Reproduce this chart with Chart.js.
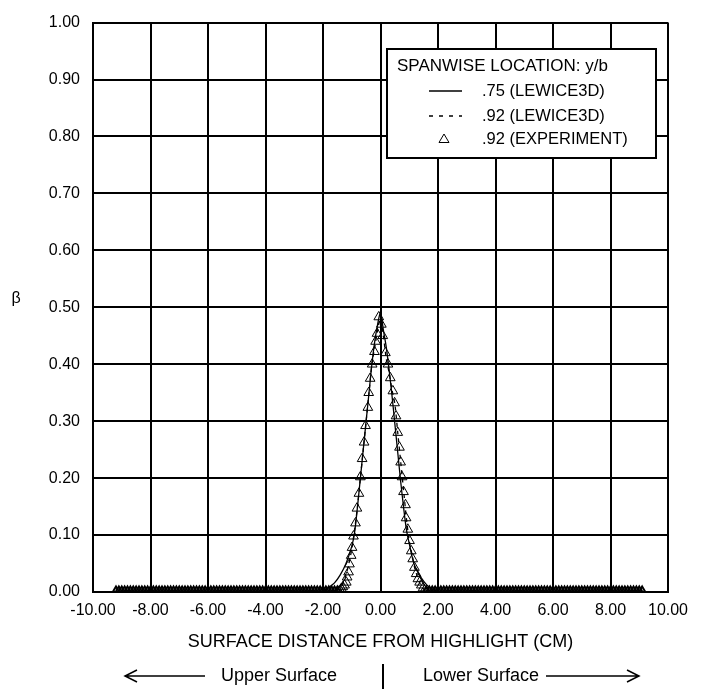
<!DOCTYPE html>
<html>
<head>
<meta charset="utf-8">
<script src="https://cdn.jsdelivr.net/npm/chart.js@4.4.1/dist/chart.umd.min.js"></script>
<style>
  html, body { margin: 0; padding: 0; background: #fff; }
</style>
</head>
<body>
<canvas id="chart" width="709" height="689"></canvas>
<script>
// axis ticks
const xTicks = [-10, -8, -6, -4, -2, 0, 2, 4, 6, 8, 10];
const yTicks = [0, 0.1, 0.2, 0.3, 0.4, 0.5, 0.6, 0.7, 0.8, 0.9, 1.0];

// .75 (LEWICE3D) - solid
const solidX = [-9.3, -2.1, -2.0, -1.8, -1.6, -1.4, -1.2, -1.0, -0.9, -0.8, -0.7, -0.6, -0.5, -0.4, -0.3, -0.2, -0.1, 0.0,
  0.1, 0.2, 0.3, 0.4, 0.5, 0.6, 0.7, 0.8, 0.9, 1.0, 1.1, 1.2, 1.4, 1.6, 1.8, 2.0, 2.1, 9.0];
const solidY = [0, 0, 0.002, 0.008, 0.016, 0.03, 0.05, 0.08, 0.105, 0.15, 0.2, 0.25, 0.3, 0.35, 0.4, 0.44, 0.47, 0.49,
  0.46, 0.43, 0.39, 0.345, 0.295, 0.245, 0.195, 0.15, 0.11, 0.085, 0.062, 0.045, 0.026, 0.013, 0.005, 0.001, 0, 0];

// .92 (LEWICE3D) - dashed
const dashX = [-9.3, -1.5, -1.4, -1.3, -1.2, -1.1, -1.0, -0.9, -0.8, -0.7, -0.6, -0.5, -0.4, -0.3, -0.2, -0.1, 0.0,
  0.1, 0.2, 0.3, 0.4, 0.5, 0.6, 0.7, 0.8, 0.9, 1.0, 1.1, 1.2, 1.3, 1.4, 1.5, 1.6, 9.0];
const dashY = [0, 0, 0.005, 0.015, 0.03, 0.05, 0.075, 0.11, 0.15, 0.2, 0.25, 0.3, 0.35, 0.4, 0.43, 0.46, 0.48,
  0.45, 0.41, 0.385, 0.355, 0.33, 0.28, 0.23, 0.18, 0.13, 0.09, 0.065, 0.04, 0.025, 0.012, 0.005, 0, 0];

// .92 (EXPERIMENT) - peak region
const expX = [-1.45, -1.40, -1.36, -1.31, -1.25, -1.19, -1.16, -1.11, -1.08, -1.02, -0.99, -0.94, -0.87, -0.82, -0.75,
  -0.70, -0.64, -0.57, -0.52, -0.44, -0.41, -0.36, -0.29, -0.21, -0.17, -0.12, -0.06,
  0.03, 0.08, 0.17, 0.26, 0.34, 0.43, 0.49, 0.54, 0.60, 0.66, 0.70, 0.75, 0.80, 0.87, 0.89, 0.95, 1.01, 1.07,
  1.12, 1.18, 1.24, 1.30, 1.36, 1.42, 1.48, 1.53];
const expY = [0.001, 0.003, 0.006, 0.009, 0.012, 0.017, 0.026, 0.035, 0.049, 0.064, 0.078, 0.098, 0.121, 0.147, 0.173,
  0.202, 0.234, 0.263, 0.292, 0.324, 0.35, 0.375, 0.40, 0.422, 0.44, 0.454, 0.483,
  0.47, 0.45, 0.42, 0.40, 0.376, 0.353, 0.332, 0.309, 0.28, 0.254, 0.228, 0.202, 0.176, 0.153, 0.13, 0.11, 0.09, 0.072,
  0.058, 0.043, 0.032, 0.023, 0.017, 0.012, 0.007, 0.003];
// experiment points sitting on zero
const expZeroX = [-9.2, -9.1, -9.0, -8.9, -8.8, -8.7, -8.6, -8.5, -8.4, -8.3, -8.2, -8.1, -8.0, -7.9, -7.8, -7.7, -7.6,
  -7.5, -7.4, -7.3, -7.2, -7.1, -7.0, -6.9, -6.8, -6.7, -6.6, -6.5, -6.4, -6.3, -6.2, -6.1, -6.0, -5.9, -5.8, -5.7,
  -5.6, -5.5, -5.4, -5.3, -5.2, -5.1, -5.0, -4.9, -4.8, -4.7, -4.6, -4.5, -4.4, -4.3, -4.2, -4.1, -4.0, -3.9, -3.8,
  -3.7, -3.6, -3.5, -3.4, -3.3, -3.2, -3.1, -3.0, -2.9, -2.8, -2.7, -2.6, -2.5, -2.4, -2.3, -2.2, -2.1, -2.0, -1.9,
  -1.8, -1.7, -1.6, -1.5,
  1.6, 1.7, 1.8, 1.9, 2.0, 2.1, 2.2, 2.3, 2.4, 2.5, 2.6, 2.7, 2.8, 2.9, 3.0, 3.1, 3.2, 3.3, 3.4, 3.5, 3.6, 3.7, 3.8,
  3.9, 4.0, 4.1, 4.2, 4.3, 4.4, 4.5, 4.6, 4.7, 4.8, 4.9, 5.0, 5.1, 5.2, 5.3, 5.4, 5.5, 5.6, 5.7, 5.8, 5.9, 6.0, 6.1,
  6.2, 6.3, 6.4, 6.5, 6.6, 6.7, 6.8, 6.9, 7.0, 7.1, 7.2, 7.3, 7.4, 7.5, 7.6, 7.7, 7.8, 7.9, 8.0, 8.1, 8.2, 8.3, 8.4,
  8.5, 8.6, 8.7, 8.8, 8.9, 9.0, 9.1];

const FONT = '"Liberation Sans", Arial, Helvetica, sans-serif';

function pts(xs, ys) {
  return xs.map((x, i) => ({ x: x, y: ys[i] }));
}

const expData = pts(expX, expY).concat(expZeroX.map(x => ({ x: x, y: 0 })));

// legend, beta label, axis title and the surface arrows
const extras = {
  id: 'extras',
  afterDraw(chart) {
    const ctx = chart.ctx;
    const area = chart.chartArea;
    const ds = chart.data.datasets;
    ctx.save();

    // legend box
    ctx.fillStyle = '#fff';
    ctx.fillRect(387, 49, 269, 109);
    ctx.strokeStyle = '#000';
    ctx.lineWidth = 2;
    ctx.strokeRect(387, 49, 269, 109);

    ctx.fillStyle = '#000';
    ctx.textBaseline = 'middle';
    ctx.textAlign = 'left';
    ctx.font = '17px ' + FONT;
    ctx.fillText('SPANWISE LOCATION: y/b', 397, 66);

    ctx.font = '16.5px ' + FONT;
    const rows = [91, 116, 139];
    ctx.lineWidth = 1.5;
    ctx.beginPath();
    ctx.moveTo(429, rows[0]); ctx.lineTo(462, rows[0]);
    ctx.stroke();
    ctx.setLineDash([4, 6]);
    ctx.beginPath();
    ctx.moveTo(429, rows[1]); ctx.lineTo(462, rows[1]);
    ctx.stroke();
    ctx.setLineDash([]);
    ctx.lineWidth = 1;
    ctx.beginPath();
    ctx.moveTo(444, rows[2] - 5);
    ctx.lineTo(449, rows[2] + 3.5);
    ctx.lineTo(439, rows[2] + 3.5);
    ctx.closePath();
    ctx.stroke();
    ds.forEach((d, i) => ctx.fillText(d.label, 482, rows[i]));

    // beta
    ctx.font = '16px ' + FONT;
    ctx.textBaseline = 'alphabetic';
    ctx.textAlign = 'center';
    ctx.fillText('β', 16, 303);

    // x-axis title
    const cx = (area.left + area.right) / 2;
    ctx.font = '18px ' + FONT;
    ctx.textBaseline = 'middle';
    ctx.fillText('SURFACE DISTANCE FROM HIGHLIGHT (CM)', cx, 642);

    // surface arrows
    const ay = 676;
    ctx.textAlign = 'left';
    ctx.fillText('Upper Surface', 221, ay);
    ctx.fillText('Lower Surface', 423, ay);
    ctx.lineWidth = 1.5;
    ctx.beginPath();
    ctx.moveTo(125, ay); ctx.lineTo(205, ay);
    ctx.moveTo(137, ay - 6); ctx.lineTo(125, ay); ctx.lineTo(137, ay + 6);
    ctx.moveTo(546, ay); ctx.lineTo(639, ay);
    ctx.moveTo(627, ay - 6); ctx.lineTo(639, ay); ctx.lineTo(627, ay + 6);
    ctx.stroke();
    ctx.lineWidth = 2;
    ctx.beginPath();
    ctx.moveTo(383, 664); ctx.lineTo(383, 689);
    ctx.stroke();

    ctx.restore();
  }
};

new Chart(document.getElementById('chart'), {
  type: 'scatter',
  data: {
    datasets: [
      {
        label: '.75 (LEWICE3D)',
        data: pts(solidX, solidY),
        showLine: true,
        borderColor: '#000',
        borderWidth: 1.3,
        pointRadius: 0,
        tension: 0.3
      },
      {
        label: '.92 (LEWICE3D)',
        data: pts(dashX, dashY),
        showLine: true,
        borderColor: '#000',
        borderWidth: 1.3,
        borderDash: [4, 4],
        pointRadius: 0,
        tension: 0.3
      },
      {
        label: '.92 (EXPERIMENT)',
        data: expData,
        showLine: false,
        pointStyle: 'triangle',
        pointRadius: 5.6,
        borderWidth: c => (c.raw && c.raw.y === 0 ? 2 : 1),
        borderColor: '#000',
        backgroundColor: 'rgba(0,0,0,0)'
      }
    ]
  },
  options: {
    responsive: false,
    animation: false,
    devicePixelRatio: 1,
    layout: { padding: { top: 15, right: 41, bottom: 0, left: 0 } },
    plugins: {
      legend: { display: false },
      tooltip: { enabled: false }
    },
    scales: {
      x: {
        type: 'linear',
        min: xTicks[0],
        max: xTicks[xTicks.length - 1],
        afterBuildTicks: s => { s.ticks = xTicks.map(v => ({ value: v })); },
        afterFit: s => { s.height = 97; },
        ticks: {
          callback: v => Number(v).toFixed(2),
          color: '#000',
          font: { family: FONT, size: 16 },
          padding: 9,
          maxRotation: 0,
          autoSkip: false
        },
        grid: { color: '#000', lineWidth: 2, drawTicks: false },
        border: { color: '#000', width: 2 }
      },
      y: {
        type: 'linear',
        min: yTicks[0],
        max: yTicks[yTicks.length - 1],
        afterBuildTicks: s => { s.ticks = yTicks.map(v => ({ value: v })); },
        afterFit: s => { s.width = 93; },
        ticks: {
          callback: v => Number(v).toFixed(2),
          color: '#000',
          font: { family: FONT, size: 16 },
          padding: 13,
          autoSkip: false
        },
        grid: { color: '#000', lineWidth: 2, drawTicks: false },
        border: { color: '#000', width: 2 }
      }
    }
  },
  plugins: [extras]
});
</script>
</body>
</html>
